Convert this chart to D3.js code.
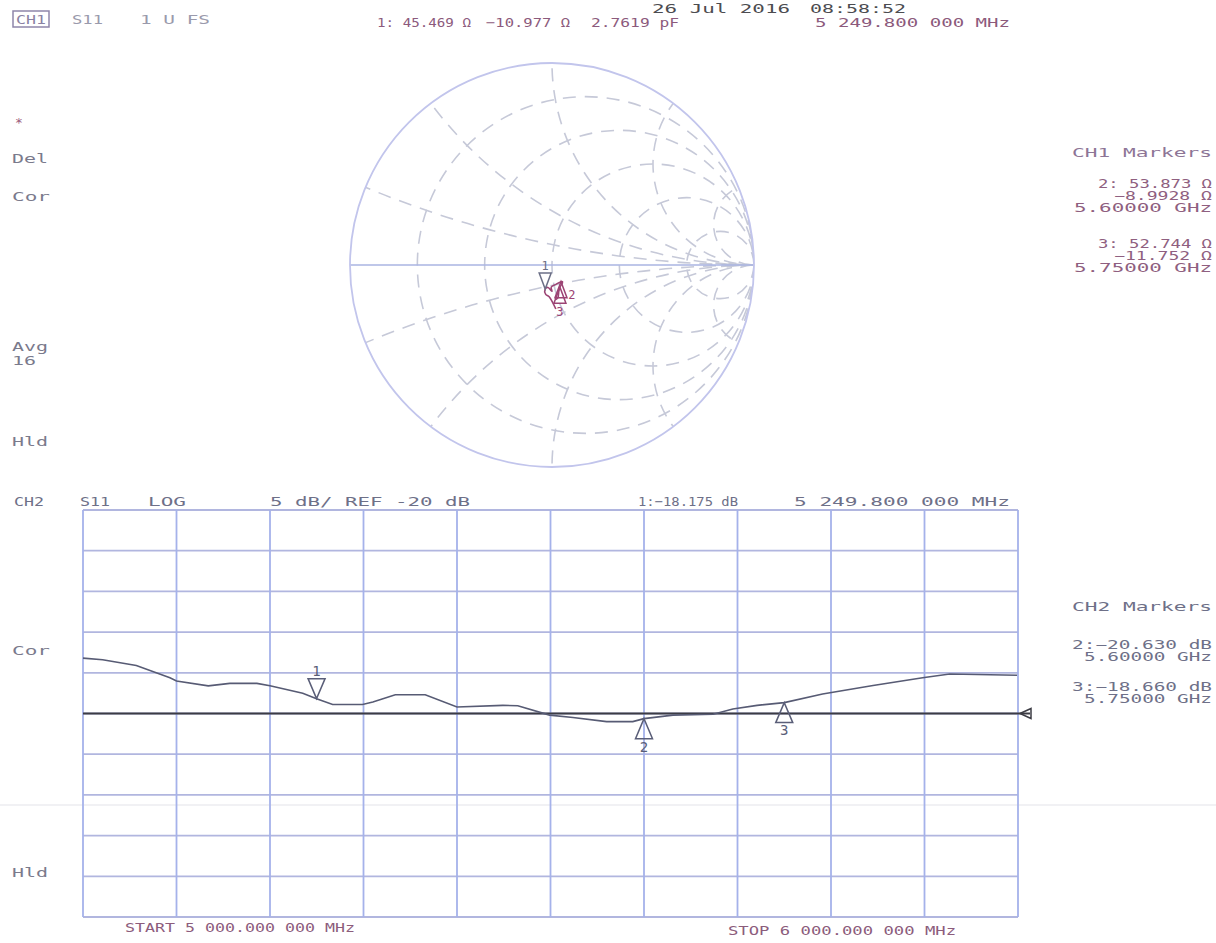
<!DOCTYPE html>
<html><head><meta charset="utf-8">
<script src="https://cdn.jsdelivr.net/npm/d3@7"></script>
<style>
body{margin:0;background:#fff;}
text{font-family:"DejaVu Sans Mono","Liberation Mono",monospace;}
</style></head>
<body><svg id="chart" width="1216" height="943"></svg>
<script>
// ---------- DATA ----------
// CH2 S11 log-magnitude trace (frequency in GHz, value in dB)
const traceFreqGHz = [5.000,5.021,5.057,5.093,5.100,5.134,5.157,5.186,5.200,5.235,5.2498,5.267,5.299,5.310,5.334,5.366,5.400,5.449,5.465,5.499,5.524,5.560,5.588,5.600,5.631,5.674,5.695,5.721,5.750,5.791,5.845,5.898,5.927,5.999];
const traceDb      = [-13.2,-13.4,-14.1,-15.6,-16.0,-16.6,-16.3,-16.3,-16.6,-17.5,-18.175,-18.9,-18.9,-18.6,-17.7,-17.7,-19.2,-19.0,-19.05,-20.2,-20.5,-21.0,-21.0,-20.63,-20.2,-20.1,-19.45,-19.0,-18.66,-17.6,-16.55,-15.6,-15.15,-15.3];

// CH1 Smith trace (reflection coefficient, real / imaginary)
const smithFreqGHz = [5.0,5.1,5.2,5.25,5.3,5.35,5.4,5.5,5.6,5.65,5.7,5.75,5.8,5.9,6.0];
const smithGammaRe = [0.019,-0.014,-0.031,-0.034,-0.020,0.000,-0.004,0.017,0.0445,0.052,0.049,0.039,0.034,0.029,0.018];
const smithGammaIm = [-0.218,-0.157,-0.145,-0.119,-0.111,-0.130,-0.110,-0.097,-0.0827,-0.083,-0.093,-0.110,-0.127,-0.163,-0.171];

// Markers
const markerIds     = ["1","2","3"];
const markerFreqGHz = [5.2498, 5.6, 5.75];
const markerDb      = [-18.175, -20.630, -18.660];
const markerResOhm  = [45.469, 53.873, 52.744];
const markerReacOhm = [-10.977, -8.9928, -11.752];
const z0 = 50;

// Grid / axis definitions
const freqGridGHz = [5.0,5.1,5.2,5.3,5.4,5.5,5.6,5.7,5.8,5.9,6.0];
const dbGrid      = [5,0,-5,-10,-15,-20,-25,-30,-35,-40,-45];
const refDb       = -20;
const resistanceCircles = [0.2,0.5,1,2,5];
const reactanceArcs     = [0.2,0.5,1,2,5];

// ---------- DRAW ----------
const svg = d3.select("#chart");
const FONT = 13;

function label(t, x, y, o = {}) {
  const el = svg.append("text").attr("x", x).attr("y", y)
    .attr("font-size", o.size || FONT)
    .attr("fill", o.color || "#7a7a8c")
    .attr("text-anchor", o.anchor || "start")
    .text(t);
  if (o.len) el.attr("textLength", o.len).attr("lengthAdjust", "spacingAndGlyphs");
  return el;
}

// faint scan line
svg.append("line").attr("x1",0).attr("x2",1216).attr("y1",805).attr("y2",805)
  .attr("stroke","#ededf0").attr("stroke-width",1.5);

// ===== Smith chart (CH1) =====
const sx = d3.scaleLinear().domain([-1,1]).range([350,754]);
const sy = d3.scaleLinear().domain([-1,1]).range([467,63]);
const R = sx(1) - sx(0);
svg.append("defs").append("clipPath").attr("id","unit")
  .append("circle").attr("cx",sx(0)).attr("cy",sy(0)).attr("r",R);
const sg = svg.append("g");
const grid = sg.append("g").attr("clip-path","url(#unit)")
  .attr("fill","none").attr("stroke","#c6c9d8").attr("stroke-width",1.6)
  .attr("stroke-dasharray","13,9");
grid.selectAll("circle.res").data(resistanceCircles).join("circle")
  .attr("class","res")
  .attr("cx", r => sx(r/(1+r))).attr("cy", sy(0))
  .attr("r", r => sx(1/(1+r)) - sx(0));
reactanceArcs.forEach(xv => {
  [1,-1].forEach(sgn => {
    grid.append("circle")
      .attr("cx", sx(1)).attr("cy", sy(sgn/xv))
      .attr("r", sx(1/xv) - sx(0));
  });
});
sg.append("line").attr("x1",sx(-1)).attr("x2",sx(1)).attr("y1",sy(0)).attr("y2",sy(0))
  .attr("stroke","#aab4e2").attr("stroke-width",1.6);
sg.append("circle").attr("cx",sx(0)).attr("cy",sy(0)).attr("r",R)
  .attr("fill","none").attr("stroke","#c2c5ec").attr("stroke-width",1.8);

// Smith trace
const smithPts = smithFreqGHz.map((f,i)=>[smithGammaRe[i], smithGammaIm[i]]);
sg.append("path").datum(smithPts)
  .attr("d", d3.line().x(d=>sx(d[0])).y(d=>sy(d[1])).curve(d3.curveCatmullRom))
  .attr("fill","none").attr("stroke","#9c4474").attr("stroke-width",1.6);

// Smith markers
const smithMk = markerIds.map((id,i)=>{
  const zr = markerResOhm[i]/z0, zi = markerReacOhm[i]/z0;
  const den = (zr+1)*(zr+1) + zi*zi;
  const gr = ((zr-1)*(zr+1) + zi*zi)/den;
  const gi = (zi*(zr+1) - (zr-1)*zi)/den;
  return {id, gr, gi};
});
function triangle(g, px, py, dir, w, h, color, lab, fs, ldx = 0, ldy = 0) {
  const by = py - dir*h;
  g.append("path")
    .attr("d", `M${px},${py} L${px-w/2},${by} L${px+w/2},${by} Z`)
    .attr("fill","none").attr("stroke",color).attr("stroke-width",1.5);
  const ly = dir > 0 ? by - 3 : by + fs*0.85 + 1;
  g.append("text").attr("x",px + ldx).attr("y",ly + ldy).attr("text-anchor","middle")
    .attr("font-size",fs).attr("fill",color).text(lab);
}
const smithLabelOffsets = [[0,0],[11,-10],[0,2]];
smithMk.forEach((m,i)=>{
  triangle(sg, sx(m.gr), sy(m.gi), i===0 ? 1 : -1, 12, 16, i===0 ? "#6b6f86" : "#9c4474", m.id, 12,
           smithLabelOffsets[i][0], smithLabelOffsets[i][1]);
});

// ===== Lower chart (CH2 log mag) =====
const x = d3.scaleLinear().domain([5.0,6.0]).range([83,1018]);
const y = d3.scaleLinear().domain([-45,5]).range([917,510]);
const lg = svg.append("g");
lg.selectAll("line.h").data(dbGrid).join("line").attr("class","h")
  .attr("x1",x(5.0)).attr("x2",x(6.0)).attr("y1",d=>y(d)).attr("y2",d=>y(d))
  .attr("stroke","#b1b6df").attr("stroke-width",1.8);
lg.selectAll("line.v").data(freqGridGHz).join("line").attr("class","v")
  .attr("x1",d=>x(d)).attr("x2",d=>x(d)).attr("y1",y(5)).attr("y2",y(-45))
  .attr("stroke","#a5b2ea").attr("stroke-width",1.8);

// reference line
lg.append("line").attr("x1",x(5.0)).attr("x2",x(6.0)+12).attr("y1",y(refDb)).attr("y2",y(refDb))
  .attr("stroke","#3c3c44").attr("stroke-width",2);
const ry = y(refDb);
lg.append("path").attr("d",`M${x(6.0)+2},${ry} L${x(6.0)+13},${ry-5} L${x(6.0)+13},${ry+5} Z`)
  .attr("fill","none").attr("stroke","#3c3c44").attr("stroke-width",1.5);

// trace
lg.append("path").datum(traceFreqGHz.map((f,i)=>[f,traceDb[i]]))
  .attr("d", d3.line().x(d=>x(d[0])).y(d=>y(d[1])))
  .attr("fill","none").attr("stroke","#575b74").attr("stroke-width",1.6);

// markers
markerIds.forEach((id,i)=>{
  triangle(lg, x(markerFreqGHz[i]), y(markerDb[i]), i===0 ? 1 : -1, 17, 20, "#5a5e78", id, 14);
});

// ===== Texts =====
// CH1 header
svg.append("rect").attr("x",13).attr("y",11).attr("width",36).attr("height",16)
  .attr("fill","none").attr("stroke","#8f86aa").attr("stroke-width",1.5);
label("CH1", 16, 24, {len:30, color:"#8a82a4"});
label("S11", 72, 24, {len:31, color:"#9a9aac"});
label("1 U FS", 140, 24, {len:70, color:"#9a9aac"});
label("26 Jul 2016", 652, 13, {len:138, color:"#4c4c50"});
label("08:58:52", 810, 13, {len:96, color:"#4c4c50"});
const fmt = d3.format(".3f");
label(`1: ${fmt(markerResOhm[0])} Ω`, 377, 27, {len:94, color:"#8c5a7c"});
label(`${fmt(markerReacOhm[0])} Ω`, 486, 27, {len:84, color:"#8c5a7c"});
label("2.7619 pF", 591, 27, {len:88, color:"#8c5a7c"});
label("5 249.800 000 MHz", 815, 27, {len:195, color:"#8c5a7c"});

// left annotations CH1
label("*", 15, 127, {color:"#9c5a7c"});
label("Del", 12, 163, {len:36});
label("Cor", 12, 201, {len:38});
label("Avg", 12, 351, {len:36, size:12});
label("16", 12, 365, {len:24, size:12});
label("Hld", 12, 446, {len:36});

// CH1 markers block
const c1 = "#8f5f80";
label("CH1 Markers", 1212, 157, {anchor:"end", len:140, color:"#8d7596"});
label(`2: ${fmt(markerResOhm[1])} Ω`, 1212, 188, {anchor:"end", len:114, color:c1, size:12});
label(`${d3.format(".4f")(markerReacOhm[1])} Ω`, 1212, 200, {anchor:"end", len:98, color:c1, size:12});
label(`${d3.format(".5f")(markerFreqGHz[1])} GHz`, 1212, 212, {anchor:"end", len:138, color:c1, size:12});
label(`3: ${fmt(markerResOhm[2])} Ω`, 1212, 248, {anchor:"end", len:114, color:c1, size:12});
label(`${fmt(markerReacOhm[2])} Ω`, 1212, 260, {anchor:"end", len:98, color:c1, size:12});
label(`${d3.format(".5f")(markerFreqGHz[2])} GHz`, 1212, 272, {anchor:"end", len:138, color:c1, size:12});

// CH2 header
const c2 = "#6e7088";
label("CH2", 14, 506, {len:30, color:c2});
label("S11", 80, 506, {len:30, color:c2});
label("LOG", 148, 506, {len:38, color:c2});
label("5 dB/ REF -20 dB", 270, 506, {len:200, color:c2});
label(`1:${fmt(markerDb[0])} dB`, 638, 506, {len:100, color:c2});
label("5 249.800 000 MHz", 794, 506, {len:216, color:c2});

// CH2 markers block
label("CH2 Markers", 1212, 611, {anchor:"end", len:140, color:c2});
label(`2:${fmt(markerDb[1])} dB`, 1212, 649, {anchor:"end", len:140, color:c2, size:12});
label(`${d3.format(".5f")(markerFreqGHz[1])} GHz`, 1212, 661, {anchor:"end", len:128, color:c2, size:12});
label(`3:${fmt(markerDb[2])} dB`, 1212, 691, {anchor:"end", len:140, color:c2, size:12});
label(`${d3.format(".5f")(markerFreqGHz[2])} GHz`, 1212, 703, {anchor:"end", len:128, color:c2, size:12});

label("Cor", 12, 655, {len:38});
label("Hld", 12, 877, {len:36});

// start / stop
label("START 5 000.000 000 MHz", 125, 932, {len:230, color:"#8c5c7c"});
label("STOP 6 000.000 000 MHz", 728, 935, {len:228, color:"#8c5c7c"});
</script></body></html>
